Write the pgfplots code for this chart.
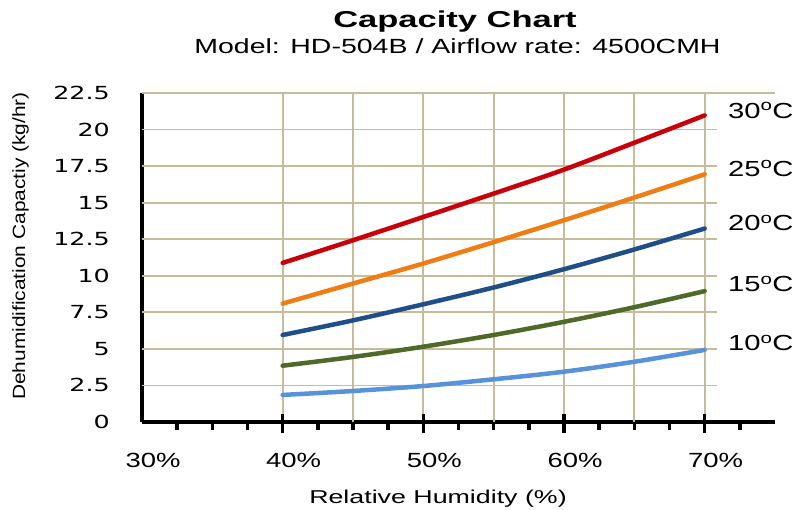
\documentclass[border=0pt]{standalone}
\usepackage{pgfplots}
\pgfplotsset{compat=1.18}
\usepackage{fontspec}
\setmainfont{Liberation Sans}
\newfontfamily\titlefont[FakeStretch=1.5]{Liberation Sans}
\newfontfamily\subfont[FakeStretch=1.39]{Liberation Sans}
\newfontfamily\ytickfont[FakeStretch=1.41]{DejaVu Sans}
\newfontfamily\xtickfont[FakeStretch=1.34]{Liberation Sans}
\newfontfamily\xlabfont[FakeStretch=1.44]{Liberation Sans}
\newfontfamily\ylabfont[FakeStretch=1.18]{Liberation Sans}
\newfontfamily\rlabfont[FakeStretch=1.34]{Liberation Sans}
\definecolor{gridcol}{HTML}{C4BD97}
\definecolor{cred}{HTML}{C8000A}
\definecolor{corange}{HTML}{F07D14}
\definecolor{cdblue}{HTML}{1F4E88}
\definecolor{cgreen}{HTML}{4F6A28}
\definecolor{clblue}{HTML}{5892DA}
\begin{document}
\begin{tikzpicture}
\begin{axis}[
  at={(142bp,88bp)}, anchor=south west,
  scale only axis, width=633bp, height=329bp,
  xmin=30, xmax=75, ymin=0, ymax=22.5,
  clip=false,
  axis x line=bottom, axis y line=left,
  axis line style={-, line width=3.8bp, black},
  tick align=inside,
  major tick length=5bp,
  xtick={30,40,50,60,70},
  xticklabels={30\%,40\%,50\%,60\%,70\%},
  x tick style={draw=none},
  ytick={0,2.5,5,7.5,10,12.5,15,17.5,20,22.5},
  yticklabels={0,2.5,5,7.5,10,12.5,15,17.5,20,22.5},
  y tick style={line width=1.5bp, black},
  /pgf/number format/assume math mode=true,
  xticklabel style={font=\xtickfont\fontsize{20.5bp}{24bp}\selectfont, anchor=base, yshift=-45bp, xshift=11bp, inner sep=0pt},
  yticklabel style={font=\ytickfont\fontsize{18bp}{21bp}\selectfont, anchor=east, xshift=-32bp, inner sep=0pt},
]
\pgfplotsinvokeforeach{2.5,5,7.5,10,12.5,15,17.5,20}{
  \draw[gridcol, line width=1.8bp] (axis cs:30,#1) -- (axis cs:70.9,#1);
}
\draw[gridcol, line width=1.8bp] (axis cs:30,22.5) -- (axis cs:75,22.5);
\pgfplotsinvokeforeach{40,45,50,55,60,65,70}{
  \draw[gridcol, line width=1.8bp] (axis cs:#1,0) -- (axis cs:#1,22.5);
}
\addplot[smooth, line width=4.5bp, line cap=round, clblue] coordinates {(40,1.85) (45,2.12) (50,2.46) (55,2.92) (60,3.44) (65,4.12) (70,4.93)};
\addplot[smooth, line width=4.5bp, line cap=round, cgreen] coordinates {(40,3.85) (45,4.45) (50,5.15) (55,5.95) (60,6.85) (65,7.85) (70,8.95)};
\addplot[smooth, line width=4.5bp, line cap=round, cdblue] coordinates {(40,5.95) (45,6.95) (50,8.05) (55,9.2) (60,10.45) (65,11.8) (70,13.23)};
\addplot[smooth, line width=4.5bp, line cap=round, corange] coordinates {(40,8.1) (45,9.47) (50,10.84) (55,12.3) (60,13.8) (65,15.35) (70,16.94)};
\addplot[smooth, line width=4.5bp, line cap=round, cred] coordinates {(40,10.88) (45,12.43) (50,14.02) (55,15.62) (60,17.26) (65,19.1) (70,20.97)};
\node[anchor=west, inner sep=0pt, font=\rlabfont\fontsize{21.8bp}{24bp}\selectfont] at (axis cs:71.65,21.3) {30\textsuperscript{o}C};
\node[anchor=west, inner sep=0pt, font=\rlabfont\fontsize{21.8bp}{24bp}\selectfont] at (axis cs:71.65,17.35) {25\textsuperscript{o}C};
\node[anchor=west, inner sep=0pt, font=\rlabfont\fontsize{21.8bp}{24bp}\selectfont] at (axis cs:71.65,13.6) {20\textsuperscript{o}C};
\node[anchor=west, inner sep=0pt, font=\rlabfont\fontsize{21.8bp}{24bp}\selectfont] at (axis cs:71.65,9.43) {15\textsuperscript{o}C};
\node[anchor=west, inner sep=0pt, font=\rlabfont\fontsize{21.8bp}{24bp}\selectfont] at (axis cs:71.65,5.4) {10\textsuperscript{o}C};
\end{axis}
\begin{axis}[
  at={(142bp,88bp)}, anchor=south west,
  scale only axis, width=633bp, height=329bp,
  xmin=30, xmax=75, ymin=0, ymax=22.5,
  hide y axis,
  axis x line=bottom,
  x axis line style={draw=none},
  xtick={40,50,60,70},
  minor xtick={32.5,35,37.5,42.5,45,47.5,52.5,55,57.5,62.5,65,67.5,72.5},
  xticklabels={},
  tick align=center,
  major tick length=19bp,
  minor tick length=8bp,
  major tick style={line width=3.4bp, black, yshift=-1.5bp},
  minor tick style={line width=3.4bp, black, yshift=-4bp},
]
\end{axis}
\node[anchor=base, inner sep=0pt, font=\titlefont\bfseries\fontsize{23bp}{27bp}\selectfont] at (455bp,482bp) {Capacity Chart};
\node[anchor=base, inner sep=0pt, font=\subfont\fontsize{20.5bp}{24bp}\selectfont] at (457.5bp,456bp) {Model: HD-504B / Airflow rate: 4500CMH};
\node[anchor=base, inner sep=0pt, font=\xlabfont\fontsize{18.6bp}{22bp}\selectfont] at (438bp,7bp) {Relative Humidity (\%)};
\node[anchor=base, rotate=90, inner sep=0pt, font=\ylabfont\fontsize{17.7bp}{21bp}\selectfont] at (25bp,264bp) {Dehumidification Capactiy (kg/hr)};
\pgfresetboundingbox
\path (0,0) rectangle (795bp,510bp);
\end{tikzpicture}
\end{document}
